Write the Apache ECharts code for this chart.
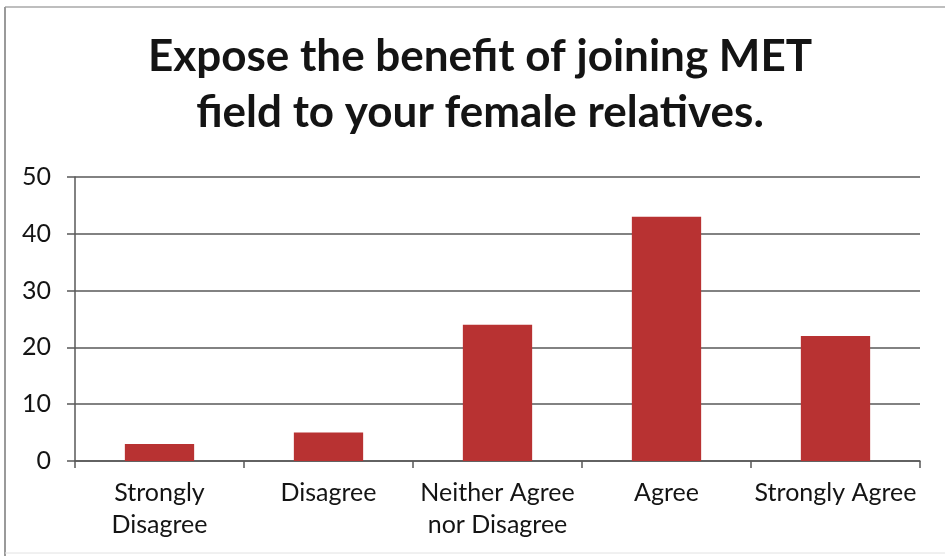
<!DOCTYPE html>
<html>
<head>
<meta charset="utf-8">
<title>Expose the benefit of joining MET field to your female relatives.</title>
<script src="https://cdn.jsdelivr.net/npm/echarts@6/dist/echarts.min.js"></script>
<style>
  html, body { margin: 0; padding: 0; background: #ffffff; }
  #chart { width: 945px; height: 556px; }
</style>
</head>
<body>
<div id="chart"></div>
<script>
// Survey responses on a five-point agreement scale
const categories = [
  'Strongly\nDisagree',
  'Disagree',
  'Neither Agree\nnor Disagree',
  'Agree',
  'Strongly Agree'
];
const responses = [3, 5, 24, 43, 22];
const yTicks = [0, 10, 20, 30, 40, 50];

const titleText = 'Expose the benefit of joining MET\nfield to your female relatives.';
const fontFamily = 'Lato, "Open Sans", sans-serif';
const axisColor = '#585858';
const labelColor = '#141414';

const chart = echarts.init(document.getElementById('chart'), null, { renderer: 'canvas' });

chart.setOption({
  backgroundColor: '#ffffff',
  animation: false,
  title: {
    text: titleText,
    left: 480,
    top: 29,
    textAlign: 'center',
    padding: 0,
    textStyle: {
      fontFamily: fontFamily,
      fontWeight: 'bold',
      fontSize: 44,
      lineHeight: 56,
      color: '#141414'
    }
  },
  grid: {
    left: 75,
    right: 25,
    top: 177,
    bottom: 95,
    containLabel: false,
    outerBoundsMode: 'none'
  },
  xAxis: {
    type: 'category',
    data: categories,
    axisLine: { show: true, lineStyle: { color: axisColor, width: 1.5 } },
    axisTick: { show: true, alignWithLabel: false, length: 7, lineStyle: { color: axisColor, width: 1.5 } },
    axisLabel: {
      interval: 0,
      margin: 16,
      fontFamily: fontFamily,
      fontSize: 25,
      lineHeight: 32,
      color: labelColor
    },
    splitLine: { show: false }
  },
  yAxis: {
    type: 'value',
    min: yTicks[0],
    max: yTicks[yTicks.length - 1],
    interval: yTicks[1] - yTicks[0],
    axisLine: { show: true, lineStyle: { color: axisColor, width: 1.5 } },
    axisTick: { show: true, length: 8, lineStyle: { color: axisColor, width: 1.5 } },
    axisLabel: {
      margin: 24,
      fontFamily: fontFamily,
      fontSize: 25,
      color: labelColor
    },
    splitLine: { show: true, lineStyle: { color: axisColor, width: 1.5 } }
  },
  series: [{
    type: 'bar',
    data: responses,
    barWidth: '41%',
    itemStyle: { color: '#B83232' }
  }],
  graphic: [
    // light frame around the chart area (top, left and bottom edges)
    { type: 'line', shape: { x1: 5, y1: 7, x2: 945, y2: 7 }, style: { stroke: '#a8a8a8', lineWidth: 1.5 }, silent: true },
    { type: 'line', shape: { x1: 5, y1: 7, x2: 5, y2: 556 }, style: { stroke: '#9a9a9a', lineWidth: 2 }, silent: true },
    { type: 'line', shape: { x1: 5, y1: 553, x2: 945, y2: 553 }, style: { stroke: '#e2e2e2', lineWidth: 1 }, silent: true }
  ]
});
</script>
</body>
</html>
